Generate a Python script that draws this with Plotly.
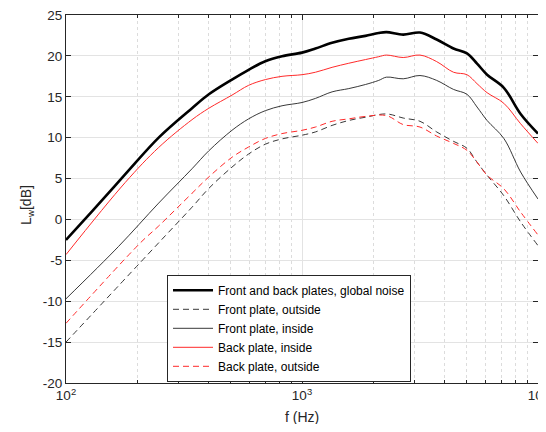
import plotly.graph_objects as go

# Front and back plates, global noise
f_global = [100, 128.9, 178, 247, 342, 403, 505, 594, 699, 823, 1000, 1140, 1341, 1578, 1857,
            2113, 2280, 2685, 3162, 3722, 4385, 5000, 5517, 6085, 7166, 8440, 10000]
L_global = [-2.5, 1.0, 5.5, 10.0, 13.6, 15.3, 17.1, 18.3, 19.35, 19.96, 20.4, 20.9, 21.6, 22.1, 22.45,
            22.8, 22.9, 22.6, 22.85, 22.0, 20.9, 20.3, 19.06, 17.7, 16.1, 12.9, 10.5]

# Front plate, outside
f_front_out = [100, 239, 342, 403, 505, 594, 699, 823, 1000, 1140, 1341, 1578, 1857, 2280, 2685,
               3162, 3722, 4385, 5000, 5517, 6085, 7166, 8440, 10000]
L_front_out = [-15.0, -3.3, 1.5, 3.8, 6.4, 8.0, 9.2, 9.85, 10.3, 10.7, 11.5, 12.1, 12.5, 12.9, 12.4,
               12.0, 10.7, 9.55, 8.7, 7.0, 5.4, 2.9, -0.3, -3.2]

# Front plate, inside
f_front_in = [100, 167, 247, 342, 403, 505, 594, 699, 823, 1000, 1140, 1341, 1578, 1857,
              2113, 2280, 2685, 3162, 3722, 4385, 5000, 5517, 6085, 7166, 8440, 10000]
L_front_in = [-9.7, -3.3, 2.0, 6.2, 8.4, 10.9, 12.3, 13.3, 13.9, 14.3, 14.8, 15.6, 16.0, 16.5,
              17.0, 17.4, 17.2, 17.6, 17.0, 15.9, 15.3, 13.75, 12.1, 9.9, 5.8, 2.5]

# Back plate, inside
f_back_in = [100, 178, 247, 342, 403, 505, 594, 699, 823, 1000, 1140, 1341, 1578, 1857,
             2113, 2280, 2685, 3162, 3722, 4385, 5000, 5517, 6085, 7166, 8440, 10000]
L_back_in = [-4.3, 4.5, 8.8, 12.2, 13.6, 15.2, 16.4, 17.1, 17.5, 17.7, 18.0, 18.6, 19.1, 19.55,
             19.9, 20.1, 19.8, 20.1, 19.3, 18.0, 17.7, 16.6, 15.5, 14.2, 11.7, 9.3]

# Back plate, outside
f_back_out = [100, 206, 247, 342, 403, 505, 594, 699, 823, 1000, 1140, 1341, 1578, 1857, 2280,
              2685, 3162, 3722, 4385, 5000, 5517, 6085, 7166, 8440, 10000]
L_back_out = [-12.7, -2.9, -0.8, 3.2, 5.2, 7.6, 8.86, 9.9, 10.5, 10.9, 11.3, 12.0, 12.3, 12.6, 12.7,
              11.6, 11.3, 10.2, 9.3, 8.45, 7.0, 5.4, 3.75, 0.9, -1.9]

y_ticks = [-20, -15, -10, -5, 0, 5, 10, 15, 20, 25]
y_ticktext = ["-20", "-15", "-10", "-5", "0", "5", "10", "15", "20", "25"]
x_ticks = [100, 1000, 10000]
x_ticktext = ["10<sup>2</sup>", "10<sup>3</sup>", "10<sup>4</sup>"]
x_minor = [m * d for d in (100, 1000) for m in range(2, 10)]

FONT = "Liberation Sans, Arial, sans-serif"
AX = "#262626"

fig = go.Figure()
fig.add_trace(go.Scatter(x=f_global, y=L_global, mode="lines", line_shape="spline",
                         name="Front and back plates, global noise",
                         line=dict(color="black", width=2.6)))
fig.add_trace(go.Scatter(x=f_front_out, y=L_front_out, mode="lines", line_shape="spline",
                         name="Front plate, outside",
                         line=dict(color="#222222", width=0.9, dash="6px,4px")))
fig.add_trace(go.Scatter(x=f_front_in, y=L_front_in, mode="lines", line_shape="spline",
                         name="Front plate, inside",
                         line=dict(color="#222222", width=0.9)))
fig.add_trace(go.Scatter(x=f_back_in, y=L_back_in, mode="lines", line_shape="spline",
                         name="Back plate, inside",
                         line=dict(color="#ff2a2a", width=1)))
fig.add_trace(go.Scatter(x=f_back_out, y=L_back_out, mode="lines", line_shape="spline",
                         name="Back plate, outside",
                         line=dict(color="#ff2a2a", width=1, dash="6px,4px")))

# the page body adds an 8px margin, so the figure is sized/offset to compensate
fig.update_layout(
    width=538, height=416,
    margin=dict(l=58, r=8, t=7, b=41),
    paper_bgcolor="white", plot_bgcolor="white",
    font=dict(family=FONT, size=13, color=AX),
    showlegend=True,
    legend=dict(x=0.214, y=0.294, xanchor="left", yanchor="top",
                bgcolor="white", bordercolor=AX, borderwidth=1,
                font=dict(family=FONT, size=12, color="black"),
                itemwidth=40, tracegroupgap=0),
    xaxis=dict(type="log", range=[2, 4], tickvals=x_ticks, ticktext=x_ticktext, automargin=False,
               ticklabeloverflow="allow",
               ticks="inside", ticklen=5, tickcolor=AX, showline=True, linecolor=AX,
               linewidth=1, mirror="ticks", showgrid=True, gridcolor="#e3e3e3", gridwidth=1,
               zeroline=False, tickfont=dict(size=13.5, color=AX),
               minor=dict(tickvals=x_minor, ticks="inside", ticklen=3, tickcolor=AX,
                          showgrid=True, gridcolor="#dcdcdc", griddash="dot", gridwidth=1)),
    yaxis=dict(range=[-20, 25], tickvals=y_ticks, ticktext=y_ticktext, automargin=False,
               ticklabeloverflow="allow",
               ticks="inside", ticklen=5, tickcolor=AX,
               showline=True, linecolor=AX, linewidth=1, mirror="ticks",
               showgrid=True, gridcolor="#e3e3e3", gridwidth=1, zeroline=False,
               tickfont=dict(size=13.5, color=AX)),
    annotations=[
        dict(text="f (Hz)", xref="paper", yref="paper", x=0.5, y=-0.0924,
             xanchor="center", yanchor="middle", showarrow=False,
             font=dict(family=FONT, size=14, color=AX)),
        dict(text="L<sub>w</sub>[dB]", xref="paper", yref="paper", x=-0.0826, y=0.484,
             xanchor="center", yanchor="middle", textangle=-90, showarrow=False,
             font=dict(family=FONT, size=14, color=AX)),
    ],
)

fig.write_html("out.html")
